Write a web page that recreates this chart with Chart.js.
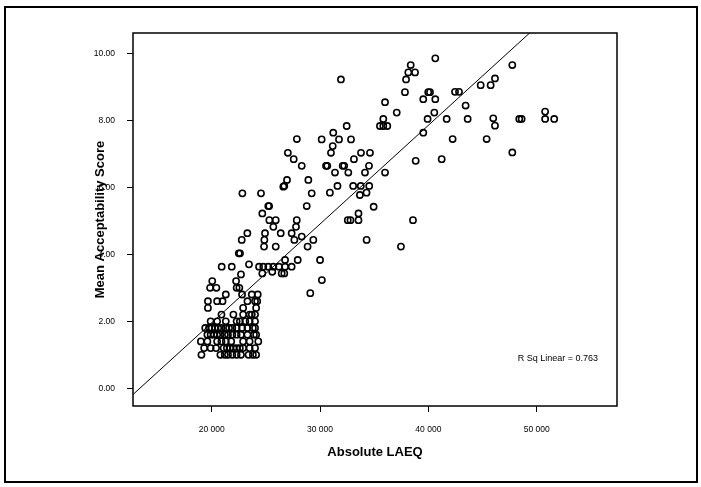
<!DOCTYPE html>
<html>
<head>
<meta charset="utf-8">
<title>Mean Acceptability Score by Absolute LAEQ</title>
<script src="https://cdn.jsdelivr.net/npm/chart.js@4.4.0/dist/chart.umd.min.js"></script>
<style>
  html, body { margin: 0; padding: 0; background: #fff; }
  canvas { display: block; }
</style>
</head>
<body>
<canvas id="chart" width="701" height="487"></canvas>
<script>
// Absolute LAEQ per site, paired with score[] below
const laeq = [
  // dense low cluster, one row per score level
  19050, 20800, 21200, 21500, 21900, 22300, 22700, 23400, 23800, 24100,
  19300, 19900, 20400, 21100, 21400, 21700, 22000, 22300, 22600, 22900, 23500, 24000,
  19000, 19600, 20500, 20900, 21300, 21800, 22900, 23500, 24300,
  19600, 19900, 20200, 20500, 20800, 21200, 21500, 21900, 22300, 22700, 23300, 23900, 24100,
  19400, 19750, 20000, 20300, 20600, 20900, 21300, 21600, 21900, 22300, 22800, 23300, 23800, 24000,
  19900, 20500, 21300, 22300, 22600, 23100, 23500, 24000,
  20900, 22000, 22900, 23500, 23700, 24000,
  19650, 22900, 24100,
  19650, 20500, 21000, 23300, 24000, 24200,
  21300, 22800, 23700, 24250,
  19850, 20430, 22300, 22550,
  20050, 22250,
  22700,
  // upper part
  40640, 38370, 47750, 38150, 38770, 37940, 31930, 46150, 44830, 45750,
  37840, 39990, 40150, 42460, 42830, 39530, 40640, 36000, 43440, 37080,
  40550, 50780, 39930, 41690, 35840, 43630, 45990, 48390, 48610, 50780,
  51620, 35530, 35840, 36210, 32460, 46150, 31220, 39530, 30150, 31750,
  32860, 27860, 42240, 45380, 31170, 31010, 33780, 34610, 27030, 47750,
  33130, 27570, 41230, 38830, 28310, 30550, 30670, 32090, 32230, 34520,
  31380, 32610, 34150, 36000,
  // middle part
  26950, 28920, 26610, 26700, 31610, 33060, 33760, 34540, 22830, 24550,
  29230, 30910, 34290, 33680, 25220, 25300, 28770, 34950, 24670, 33550,
  25320, 25910, 27850, 32560, 32810, 33550, 38580, 25690, 27780, 23290,
  24920, 26370, 27380, 28310, 22770, 24860, 27630, 29380, 34300, 24830,
  25910, 28850, 37470, 22610, 22500, 26770, 27940, 30000, 23440, 20920,
  21850, 24370, 24760, 25220, 25690, 26210, 26770, 27380, 25590, 24670,
  26460, 26700, 30170, 29100
];

// Mean acceptability score, same order as laeq[]
const score = [
  1.0, 1.0, 1.0, 1.0, 1.0, 1.0, 1.0, 1.0, 1.0, 1.0,
  1.2, 1.2, 1.2, 1.2, 1.2, 1.2, 1.2, 1.2, 1.2, 1.2, 1.2, 1.2,
  1.4, 1.4, 1.4, 1.4, 1.4, 1.4, 1.4, 1.4, 1.4,
  1.6, 1.6, 1.6, 1.6, 1.6, 1.6, 1.6, 1.6, 1.6, 1.6, 1.6, 1.6, 1.6,
  1.8, 1.8, 1.8, 1.8, 1.8, 1.8, 1.8, 1.8, 1.8, 1.8, 1.8, 1.8, 1.8, 1.8,
  2.0, 2.0, 2.0, 2.0, 2.0, 2.0, 2.0, 2.0,
  2.2, 2.2, 2.2, 2.2, 2.2, 2.2,
  2.4, 2.4, 2.4,
  2.6, 2.6, 2.6, 2.6, 2.6, 2.6,
  2.8, 2.8, 2.8, 2.8,
  3.0, 3.0, 3.0, 3.0,
  3.2, 3.2,
  3.4,
  9.85, 9.65, 9.65, 9.43, 9.43, 9.22, 9.22, 9.25, 9.05, 9.05,
  8.84, 8.84, 8.84, 8.85, 8.85, 8.63, 8.63, 8.54, 8.44, 8.23,
  8.23, 8.26, 8.04, 8.04, 8.04, 8.04, 8.06, 8.04, 8.04, 8.04,
  8.04, 7.83, 7.83, 7.83, 7.83, 7.84, 7.63, 7.63, 7.43, 7.43,
  7.43, 7.44, 7.44, 7.44, 7.23, 7.03, 7.03, 7.03, 7.03, 7.04,
  6.84, 6.84, 6.84, 6.79, 6.64, 6.64, 6.64, 6.64, 6.64, 6.64,
  6.44, 6.44, 6.44, 6.44,
  6.22, 6.22, 6.02, 6.04, 6.04, 6.04, 6.04, 6.04, 5.82, 5.82,
  5.82, 5.84, 5.84, 5.77, 5.44, 5.44, 5.44, 5.42, 5.22, 5.22,
  5.02, 5.02, 5.02, 5.02, 5.02, 5.02, 5.02, 4.82, 4.82, 4.63,
  4.63, 4.63, 4.63, 4.53, 4.43, 4.43, 4.43, 4.43, 4.43, 4.23,
  4.23, 4.23, 4.23, 4.03, 4.03, 3.83, 3.83, 3.83, 3.70, 3.63,
  3.63, 3.63, 3.63, 3.63, 3.63, 3.63, 3.63, 3.63, 3.48, 3.43,
  3.43, 3.43, 3.23, 2.84
];

// axis ticks
const xTicks = [20000, 30000, 40000, 50000];
const yTicks = [0, 2, 4, 6, 8, 10];

// axis ranges as drawn in the original
const xMin = 12733, xMax = 57415;
const yMin = -0.528, yMax = 10.606;

// linear fit shown on the plot
const fitIntercept = -3.937;
const fitSlope = 0.0002947;
const rSquared = 0.763;

const fontFamily = '"Liberation Sans", Arial, Helvetica, sans-serif';

const points = laeq.map((x, i) => ({ x: x, y: score[i] }));
const fitLine = [xMin, xMax].map(x => ({ x: x, y: fitIntercept + fitSlope * x }));

// white page, outer frame, plot box and the R sq note
const decorations = {
  id: 'decorations',
  beforeDraw(chart) {
    const ctx = chart.ctx;
    ctx.save();
    ctx.fillStyle = '#fff';
    ctx.fillRect(0, 0, chart.width, chart.height);
    ctx.restore();
  },
  afterDraw(chart) {
    const { ctx, chartArea: a } = chart;
    ctx.save();
    ctx.strokeStyle = '#000';
    ctx.lineWidth = 1.5;
    ctx.strokeRect(a.left, a.top, a.right - a.left, a.bottom - a.top);
    ctx.lineWidth = 2;
    ctx.strokeRect(5, 7, 692, 475);
    ctx.fillStyle = '#000';
    ctx.font = '9px ' + fontFamily;
    ctx.textAlign = 'right';
    ctx.textBaseline = 'middle';
    ctx.fillText('R Sq Linear = ' + rSquared.toFixed(3), a.right - 19, 359);
    ctx.restore();
  }
};

new Chart(document.getElementById('chart'), {
  type: 'scatter',
  data: {
    datasets: [
      {
        type: 'line',
        data: fitLine,
        borderColor: '#000',
        borderWidth: 1,
        pointRadius: 0,
        fill: false,
        tension: 0
      },
      {
        data: points,
        pointRadius: 3.1,
        pointBorderWidth: 1.6,
        borderColor: '#000',
        backgroundColor: 'rgba(0,0,0,0)'
      }
    ]
  },
  options: {
    responsive: false,
    animation: false,
    devicePixelRatio: 1,
    layout: { padding: { top: 33, right: 84, bottom: 0, left: 0 } },
    plugins: {
      legend: { display: false },
      tooltip: { enabled: false }
    },
    scales: {
      x: {
        type: 'linear',
        min: xMin,
        max: xMax,
        afterFit: s => { s.height = 81; },
        afterBuildTicks: s => { s.ticks = xTicks.map(v => ({ value: v })); },
        grid: { drawOnChartArea: false, drawTicks: true, tickLength: 6, color: '#000', lineWidth: 1 },
        border: { display: false },
        ticks: {
          color: '#000',
          font: { family: fontFamily, size: 8.5 },
          padding: 13,
          maxRotation: 0,
          autoSkip: false,
          callback: v => String(v).replace(/\B(?=(\d{3})+(?!\d))/g, ' ')
        },
        title: {
          display: true,
          text: 'Absolute LAEQ',
          color: '#000',
          font: { family: fontFamily, size: 13, weight: 'bold' },
          padding: { top: 0, bottom: 27 }
        }
      },
      y: {
        type: 'linear',
        min: yMin,
        max: yMax,
        afterFit: s => { s.width = 133; },
        afterBuildTicks: s => { s.ticks = yTicks.map(v => ({ value: v })); },
        grid: { drawOnChartArea: false, drawTicks: true, tickLength: 6, color: '#000', lineWidth: 1 },
        border: { display: false },
        ticks: {
          color: '#000',
          font: { family: fontFamily, size: 8.5 },
          padding: 12,
          autoSkip: false,
          callback: v => Number(v).toFixed(2)
        },
        title: {
          display: true,
          text: 'Mean Acceptability Score',
          color: '#000',
          font: { family: fontFamily, size: 13, weight: 'bold' },
          padding: { top: 93, bottom: 0 }
        }
      }
    }
  },
  plugins: [decorations]
});
</script>
</body>
</html>
